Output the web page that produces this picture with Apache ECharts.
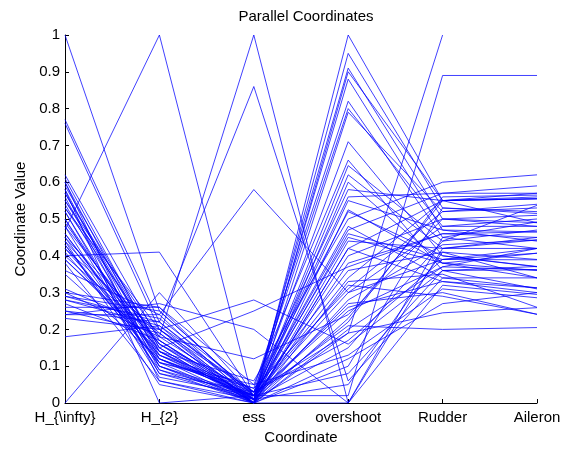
<!DOCTYPE html>
<html>
<head>
<meta charset="utf-8">
<script src="https://cdn.jsdelivr.net/npm/echarts@6/dist/echarts.min.js"></script>
<style>
  html, body { margin: 0; padding: 0; background: #fff; }
  #chart { width: 569px; height: 450px; }
</style>
</head>
<body>
<div id="chart"></div>
<script>
// axis names
const coordinates = ['H_{\\infty}', 'H_{2}', 'ess', 'overshoot', 'Rudder', 'Aileron'];

// one value per design, per coordinate
const hInf = [1.00, 0.77, 0.76, 0.62, 0.61, 0.60, 0.59, 0.58, 0.57, 0.56,
  0.55, 0.54, 0.53, 0.52, 0.50, 0.49, 0.48, 0.47, 0.46, 0.45,
  0.44, 0.43, 0.42, 0.41, 0.40, 0.39, 0.38, 0.36, 0.35, 0.31,
  0.30, 0.29, 0.29, 0.28, 0.28, 0.27, 0.26, 0.25, 0.25, 0.24,
  0.24, 0.23, 0.18, 0.00, 0.55, 0.52, 0.50, 0.48, 0.46, 0.44,
  0.42, 0.40, 0.60, 0.58, 0.57, 0.53, 0.45, 0.43, 0.39, 0.30];
const h2 = [0.25, 0.22, 0.20, 0.17, 0.14, 0.12, 0.15, 0.10, 0.13, 0.09,
  0.18, 0.11, 0.16, 0.08, 0.12, 0.14, 0.07, 1.00, 0.13, 0.10,
  0.16, 0.09, 0.19, 0.11, 0.41, 0.15, 0.06, 0.24, 0.12, 0.20,
  0.18, 0.22, 0.25, 0.21, 0.23, 0.17, 0.26, 0.19, 0.22, 0.27,
  0.24, 0.20, 0.21, 0.30, 0.14, 0.10, 0.08, 0.16, 0.12, 0.05,
  0.13, 0.17, 0.06, 0.00, 0.15, 0.20, 0.18, 0.11, 0.14, 0.26];
const ess = [0.02, 0.01, 0.03, 0.00, 0.01, 0.02, 0.00, 0.01, 0.04, 0.00,
  0.02, 0.05, 0.01, 0.03, 0.00, 0.06, 0.02, 0.00, 0.01, 0.00,
  0.03, 0.02, 0.00, 0.04, 0.02, 0.00, 0.01, 0.58, 0.02, 0.00,
  1.00, 0.86, 0.02, 0.00, 0.03, 0.01, 0.05, 0.00, 0.02, 0.20,
  0.00, 0.01, 0.03, 0.02, 0.00, 0.02, 0.01, 0.00, 0.03, 0.00,
  0.02, 0.01, 0.00, 0.02, 0.25, 0.28, 0.12, 0.00, 0.02, 0.01];
const overshoot = [0.45, 0.62, 0.80, 1.00, 0.95, 0.91, 0.90, 0.88, 0.82, 0.79,
  0.71, 0.66, 0.645, 0.58, 0.525, 0.50, 0.47, 0.42, 0.40, 0.38,
  0.36, 0.34, 0.33, 0.31, 0.30, 0.28, 0.27, 0.30, 0.25, 0.23,
  0.00, 0.06, 0.21, 0.19, 0.17, 0.15, 0.13, 0.10, 0.08, 0.00,
  0.00, 0.05, 0.19, 0.02, 0.60, 0.48, 0.55, 0.44, 0.52, 0.20,
  0.26, 0.22, 0.42, 0.32, 0.37, 0.16, 0.24, 0.12, 0.56, 0.46];
const rudder = [0.38, 0.42, 0.48, 0.55, 0.53, 0.50, 0.55, 0.47, 0.45, 0.52,
  0.40, 0.36, 0.44, 0.55, 0.38, 0.60, 0.57, 0.33, 0.50, 0.46,
  0.41, 0.55, 0.35, 0.52, 0.39, 0.43, 0.30, 0.48, 0.37, 0.55,
  0.42, 0.34, 0.20, 0.245, 0.39, 0.44, 0.31, 0.53, 0.36, 0.32,
  0.45, 0.41, 1.00, 0.89, 0.38, 0.34, 0.47, 0.42, 0.40, 0.37,
  0.33, 0.56, 0.55, 0.29, 0.46, 0.36, 0.50, 0.27, 0.57, 0.39];
const aileron = [0.36, 0.45, 0.50, 0.56, 0.52, 0.48, 0.57, 0.44, 0.42, 0.54,
  0.37, 0.31, 0.47, 0.555, 0.34, 0.62, 0.59, 0.30, 0.51, 0.465,
  0.39, 0.49, 0.26, 0.53, 0.407, 0.443, 0.241, 0.48, 0.362, 0.555,
  0.42, 0.313, 0.205, 0.259, 0.389, 0.537, 0.286, 0.515, 0.371, 0.295,
  0.492, 0.34, null, 0.89, 0.407, 0.34, 0.465, 0.443, 0.371, 0.42,
  0.313, 0.565, 0.555, 0.241, 0.45, 0.362, 0.49, 0.30, 0.57, 0.42];

const chart = echarts.init(document.getElementById('chart'));

// one polyline per design
const series = hInf.map((v, i) => ({
  type: 'line',
  data: [v, h2[i], ess[i], overshoot[i], rudder[i], aileron[i]],
  symbol: 'none',
  silent: true,
  connectNulls: false,
  lineStyle: { color: '#0000ff', width: 1, opacity: 0.75 }
}));

const font = 'Liberation Sans, Arial, sans-serif';

chart.setOption({
  animation: false,
  backgroundColor: '#fff',
  title: {
    text: 'Parallel Coordinates',
    left: 301,
    top: 4,
    textAlign: 'center',
    textStyle: { fontFamily: font, fontSize: 15, fontWeight: 'normal', color: '#000' }
  },
  grid: { left: 65, right: 32, top: 35, bottom: 44 },
  xAxis: {
    type: 'category',
    data: coordinates,
    boundaryGap: false,
    name: 'Coordinate',
    nameLocation: 'middle',
    nameGap: 27,
    nameTextStyle: { fontFamily: font, fontSize: 15, color: '#000' },
    axisLine: { lineStyle: { color: '#000', width: 1 } },
    axisTick: { inside: true, length: 4, lineStyle: { color: '#000' } },
    axisLabel: { fontFamily: font, fontSize: 15, color: '#000', margin: 7, interval: 0 },
    splitLine: { show: false }
  },
  yAxis: {
    type: 'value',
    min: 0,
    max: 1,
    interval: 0.1,
    name: 'Coordinate Value',
    nameLocation: 'middle',
    nameGap: 36,
    nameTextStyle: { fontFamily: font, fontSize: 15, color: '#000' },
    axisLine: { show: true, lineStyle: { color: '#000', width: 1 } },
    axisTick: { show: true, inside: true, length: 4, lineStyle: { color: '#000' } },
    axisLabel: { fontFamily: font, fontSize: 15, color: '#000', margin: 5 },
    splitLine: { show: false }
  },
  series: series
});
</script>
</body>
</html>
